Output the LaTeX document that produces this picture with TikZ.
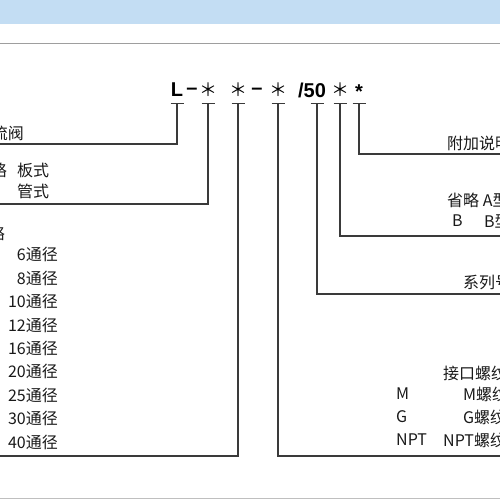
\documentclass[tikz,border=0pt]{standalone}
\usepackage{fontspec}
\setmainfont{Noto Sans CJK SC}
\newfontfamily\codefont{Liberation Sans}
\usetikzlibrary{arrows.meta}
\definecolor{bandblue}{HTML}{C3DDF3}
\definecolor{inkgray}{HTML}{3A3A3A}
\tikzset{
	lbl/.style={inner sep=0pt, text=black!90, font=\fontsize{16}{18}\selectfont},
	codechar/.style={inner sep=0pt, font=\codefont\bfseries\fontsize{20}{22}\selectfont},
	starchar/.style={inner sep=0pt, font=\fontsize{18}{20}\selectfont},
	lead/.style={draw=inkgray, line width=1.1pt, {Bar[width=13pt]}-},
}

\begin{document}
\begin{tikzpicture}[x=1pt,y=-1pt]
\useasboundingbox (0,0) rectangle (500,500);
\clip (0,0) rectangle (500,500);
\fill[bandblue] (0,0) rectangle (500,24);
\draw[black!38, line width=1.6pt] (0,43.5) -- (500,43.5);
\draw[black!25, line width=1pt] (0,498.5) -- (500,498.5);
% model code
\node[codechar] (cL) at (177,90) {L};
\node[codechar] (dashA) at (192,91) {\textendash};
\node[starchar] (starA) at (208,90) {＊};
\node[starchar] (starB) at (238,90) {＊};
\node[codechar] (dashB) at (257,91) {\textendash};
\node[starchar] (starC) at (278,90) {＊};
\node[codechar] (press) at (312,90) {/50};
\node[starchar] (starD) at (340,90) {＊};
\node[codechar] (starE) at (359,92) {*};
% tee points and line ends
\coordinate (tL) at (177,103);
\coordinate (tA) at (208,103);
\coordinate (tB) at (238,103);
\coordinate (tC) at (278,103);
\coordinate (tP) at (317,103);
\coordinate (tD) at (340,103);
\coordinate (tE) at (359,103);
\coordinate (eL) at (0,144);
\coordinate (eA) at (0,204);
\coordinate (eB) at (0,456);
\coordinate (eC) at (500,456);
\coordinate (eP) at (500,294);
\coordinate (eD) at (500,236);
\coordinate (eE) at (500,154);
\draw[lead] (tL) |- (eL);
\draw[lead] (tA) |- (eA);
\draw[lead] (tB) |- (eB);
\draw[lead] (tC) |- (eC);
\draw[lead] (tP) |- (eP);
\draw[lead] (tD) |- (eD);
\draw[lead] (tE) |- (eE);
% left side
\node[lbl, anchor=east] (valve) at (24,133) {流阀};
\node[lbl, anchor=east] (omitA) at (7,170) {略};
\node[lbl, anchor=west] (plate) at (17,170) {板式};
\node[lbl, anchor=west] (pipe) at (17,191) {管式};
\node[lbl, anchor=east] (omitB) at (5,233) {略};
\foreach \d [count=\i] in {6,8,10,12,16,20,25,30,40}
	\node[lbl, anchor=east] (size\d) at (58,231.5+23.4*\i) {{\d}通径};
% right side
\node[lbl, anchor=west] (extra) at (447,143) {附加说明};
\node[lbl, anchor=west] (typeA) at (447,200) {省略 A型};
\node[lbl, anchor=west] (keyB) at (452,221) {B};
\node[lbl, anchor=west] (typeB) at (484,221) {B型};
\node[lbl, anchor=west] (series) at (463,282) {系列号};
\node[lbl, anchor=west] (thread) at (443,373) {接口螺纹};
\node[lbl, anchor=west] (keyM) at (396,394) {M};
\node[lbl, anchor=west] (thrM) at (463,394) {M螺纹};
\node[lbl, anchor=west] (keyG) at (396,417) {G};
\node[lbl, anchor=west] (thrG) at (463,417) {G螺纹};
\node[lbl, anchor=west] (keyN) at (396,440) {NPT};
\node[lbl, anchor=west] (thrN) at (443,440) {NPT螺纹};
\end{tikzpicture}
\end{document}
